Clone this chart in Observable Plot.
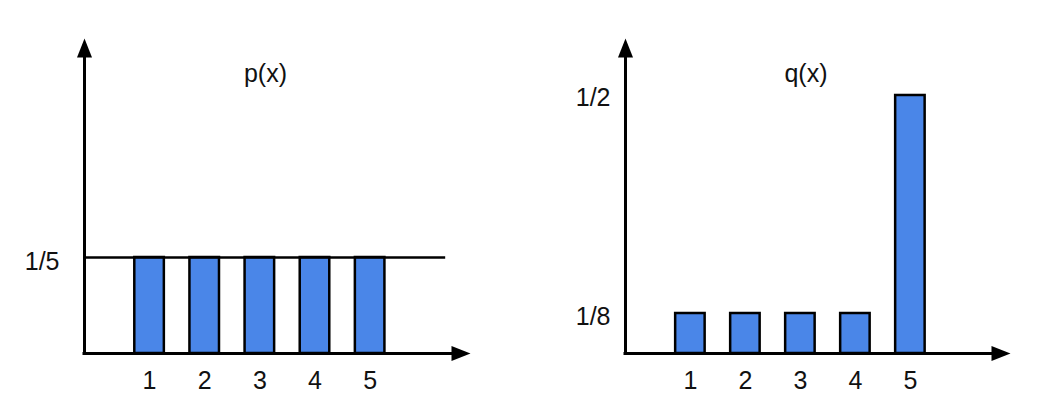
<!DOCTYPE html>
<html>
<head>
<meta charset="utf-8">
<script src="https://cdn.jsdelivr.net/npm/d3@7"></script>
<script src="https://cdn.jsdelivr.net/npm/@observablehq/plot@0.6"></script>
<style>
  html, body { margin: 0; padding: 0; background: #fff; }
  #chart { display: flex; width: 1047px; height: 413px; }
  #chart svg { flex: none; }
</style>
</head>
<body>
<div id="chart"></div>
<script>
// ---- data ----
const categories = [1, 2, 3, 4, 5];
const pValues = [1/5, 1/5, 1/5, 1/5, 1/5];
const qValues = [1/8, 1/8, 1/8, 1/8, 1/2];
const pTickValues = [1/5];
const pTickLabels = ["1/5"];
const qTickValues = [1/8, 1/2];
const qTickLabels = ["1/8", "1/2"];
const titles = ["p(x)", "q(x)"];

// ---- styling ----
const FONT = "'Liberation Sans', Arial, sans-serif";
const FS = 25;
const BAR = "#4a86e8";
const INK = "#000";
const X0 = -0.18, X1 = 6.82;   // x-axis extent (origin to arrow tip)
const HALF = 0.268;            // half bar width in x units

const arrowHead = {
  draw(ctx) {
    ctx.moveTo(0, 0);
    ctx.lineTo(-7.5, 19);
    ctx.lineTo(7.5, 19);
    ctx.closePath();
  }
};

function panel({values, tickValues, tickLabels, title, width, marginRight, y, refLine, labelDx, labelDy}) {
  const yTop = y.domain[1];
  const rows = categories.map((c, i) => ({x: c, v: values[i]}));
  const marks = [
    Plot.rectY(rows, {x1: d => d.x - HALF, x2: d => d.x + HALF, y1: 0, y2: "v",
      fill: BAR, stroke: INK, strokeWidth: 2.5}),
    Plot.ruleX([X0], {y1: yTop, y2: 0, stroke: INK, strokeWidth: 3, insetTop: 10, strokeLinecap: "square"}),
    Plot.ruleY([0], {x1: X0, x2: X1, stroke: INK, strokeWidth: 3, insetRight: 10, strokeLinecap: "square"}),
    Plot.dot([0], {x: X0, y: yTop, symbol: arrowHead, fill: INK, r: 5}),
    Plot.dot([0], {x: X1, y: 0, symbol: arrowHead, fill: INK, r: 5, rotate: 90}),
    Plot.text(categories, {x: d => d, y: 0, text: d => String(d), dy: 27,
      lineAnchor: "middle", fontSize: FS, fill: "#111"}),
    Plot.text(tickValues, {x: X0, y: d => d, text: (d, i) => tickLabels[i],
      textAnchor: "end", dx: labelDx, dy: labelDy, lineAnchor: "middle", fontSize: FS, fill: "#111"}),
    Plot.text([title], {frameAnchor: "top", text: d => d, dx: -12, dy: 35,
      lineAnchor: "middle", fontSize: FS, fill: "#111"})
  ];
  if (refLine != null) {
    marks.splice(1, 0, Plot.ruleY([refLine], {x1: X0, x2: 6.37, stroke: INK, strokeWidth: 2.5}));
  }
  return Plot.plot({
    width, height: 413,
    marginLeft: 84, marginRight, marginTop: 38, marginBottom: 60,
    style: {fontFamily: FONT, fontSize: FS + "px", background: "#fff"},
    x: {type: "linear", domain: [X0, X1], axis: null},
    y: {...y, axis: null},
    marks
  });
}

const chart = document.getElementById("chart");
chart.append(panel({
  values: pValues, tickValues: pTickValues, tickLabels: pTickLabels, title: titles[0],
  width: 541, marginRight: 71,
  y: {type: "linear", domain: [0, 0.65625]},
  refLine: pValues[0], labelDx: -25, labelDy: 4
}));
chart.append(panel({
  values: qValues, tickValues: qTickValues, tickLabels: qTickLabels, title: titles[1],
  width: 506, marginRight: 37,
  y: {type: "pow", exponent: 1.3447, domain: [0, 0.58]},
  refLine: null, labelDx: -15, labelDy: 3
}));
</script>
</body>
</html>
